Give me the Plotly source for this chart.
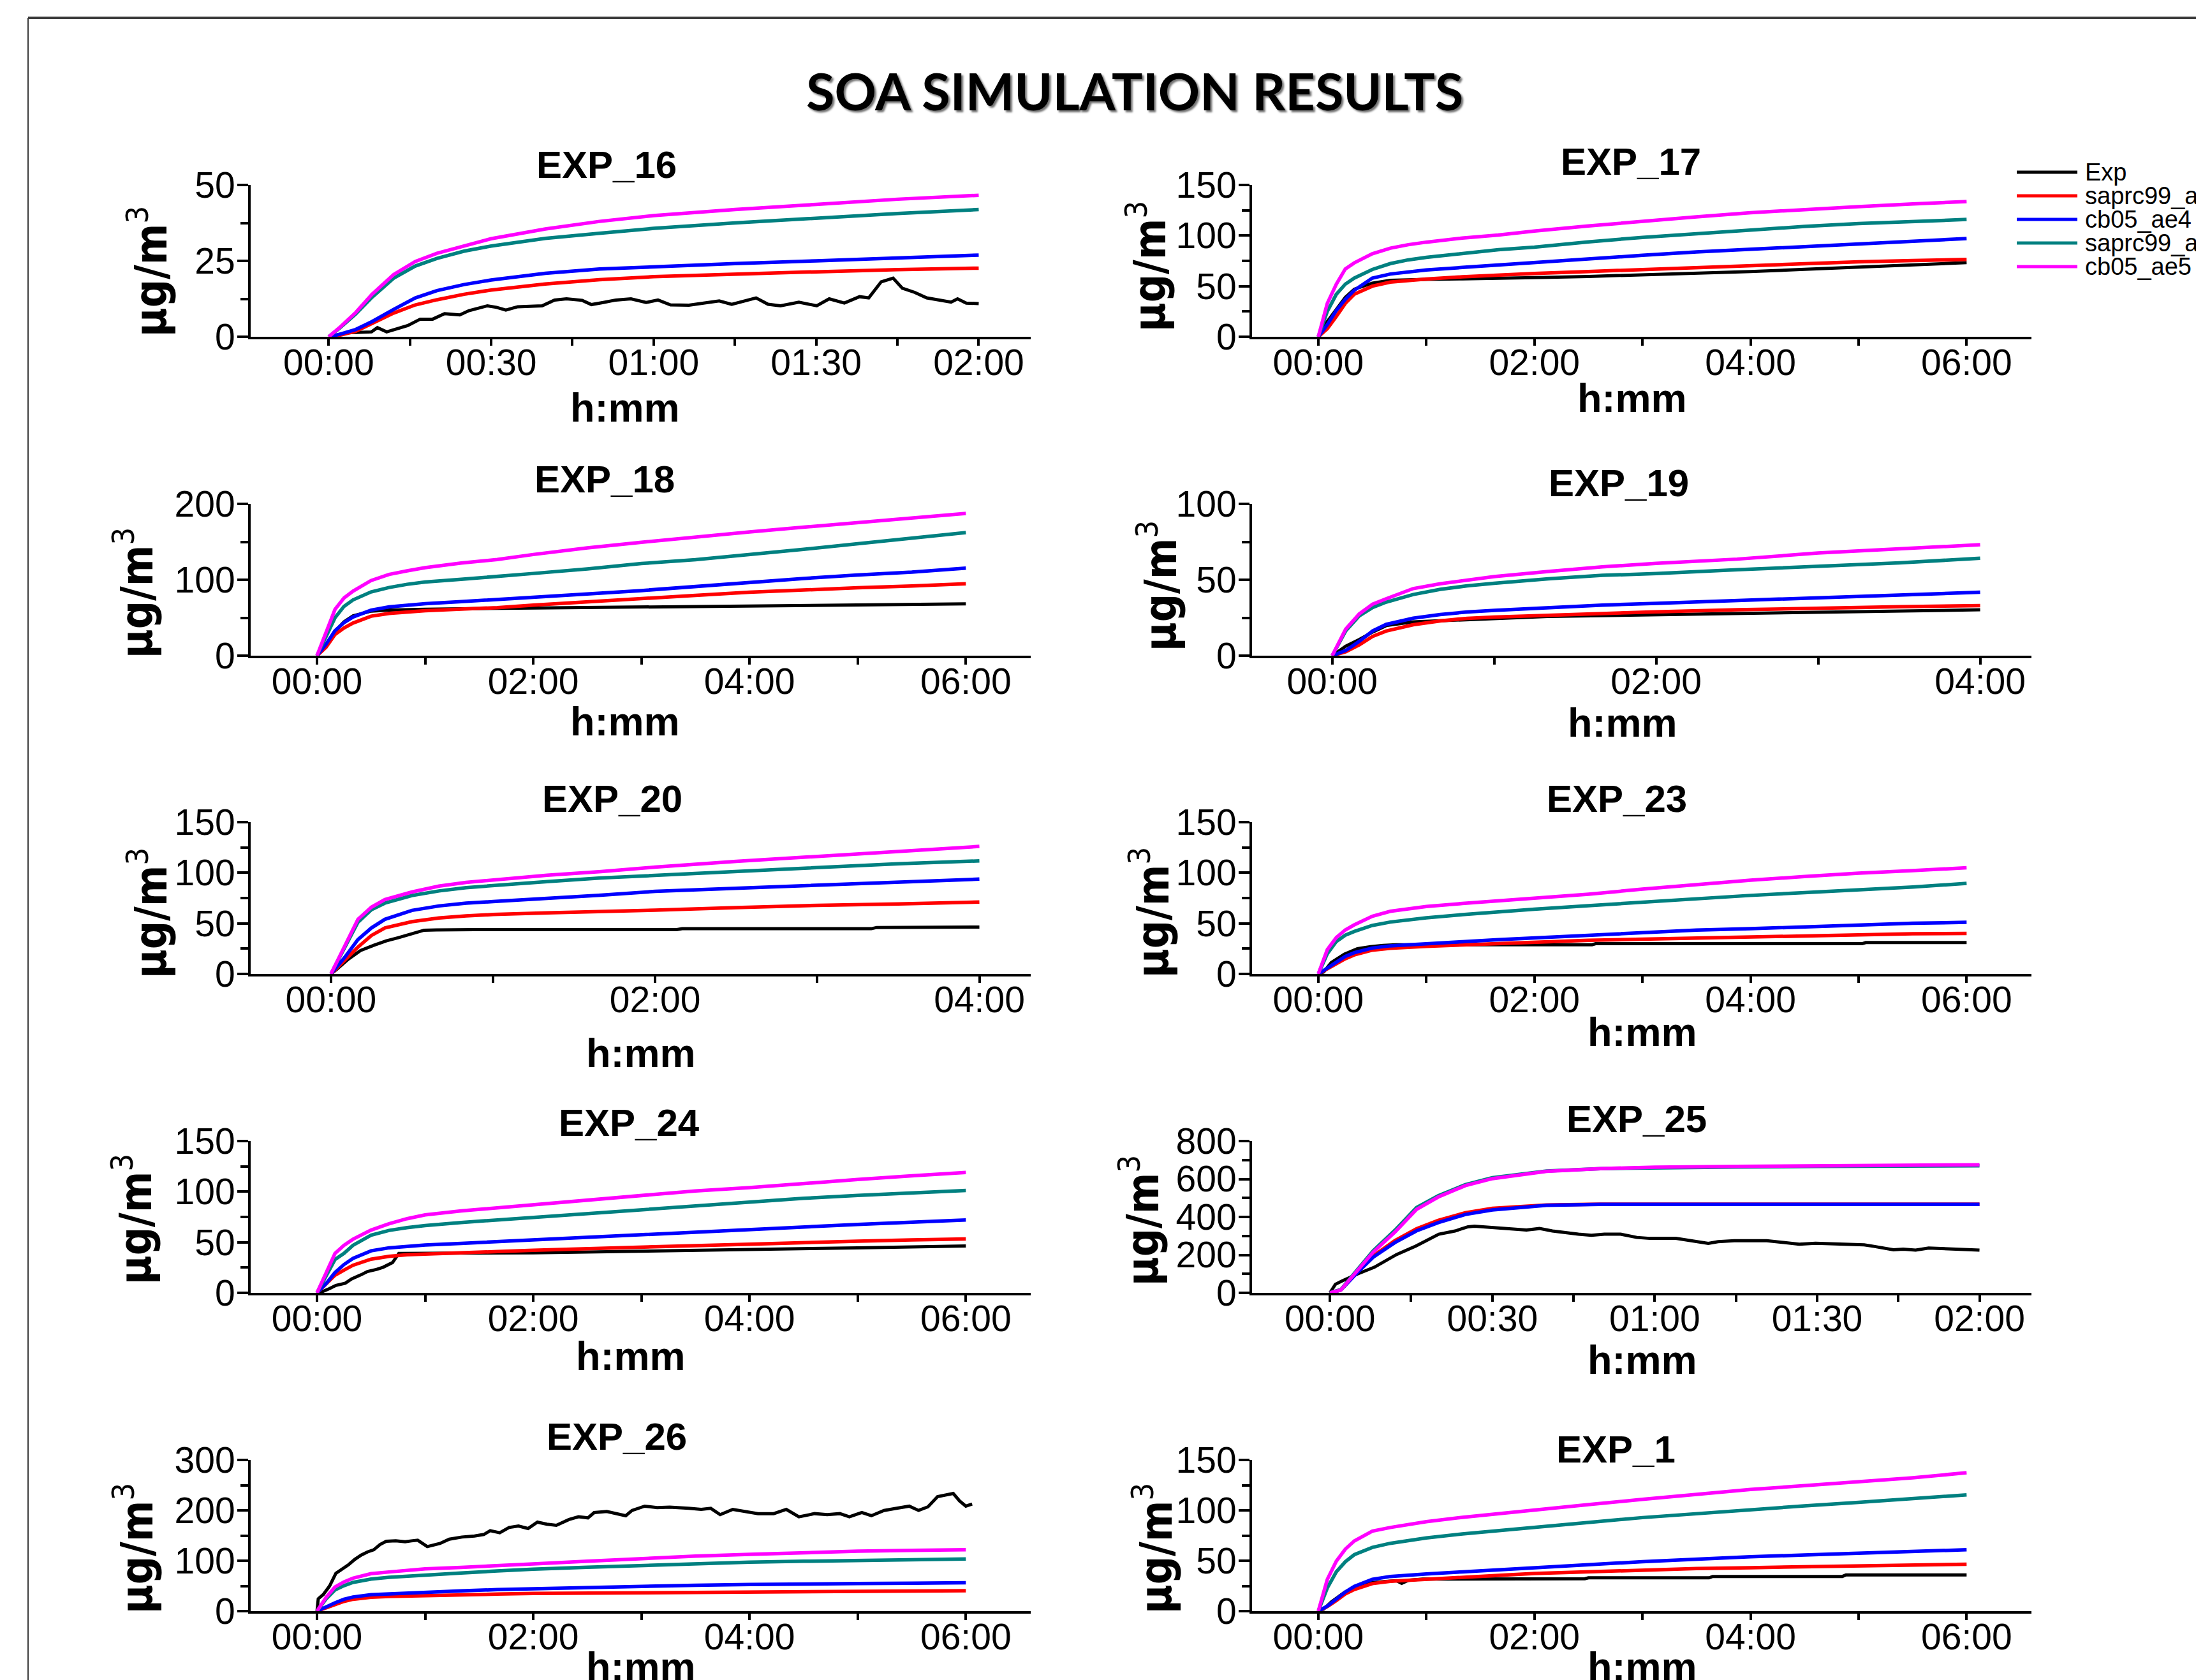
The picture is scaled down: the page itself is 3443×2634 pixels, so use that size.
import plotly.graph_objects as go

W, H = 3443, 2634

# ---------------- data ----------------
SERIES_NAMES = ["Exp", "saprc99_ae4", "cb05_ae4", "saprc99_ae5", "cb05_ae5"]
SERIES_COLORS = ["#000000", "#FF0000", "#0000FF", "#008080", "#FF00FF"]

PANEL_TITLES = ["EXP_16", "EXP_17", "EXP_18", "EXP_19", "EXP_20",
                "EXP_23", "EXP_24", "EXP_25", "EXP_26", "EXP_1"]
PANEL_YMAX = [50, 150, 200, 100, 150, 150, 150, 800, 300, 150]
PANEL_YTICKS = [[0, 25, 50], [0, 50, 100, 150], [0, 100, 200], [0, 50, 100],
                [0, 50, 100, 150], [0, 50, 100, 150], [0, 50, 100, 150],
                [0, 200, 400, 600, 800], [0, 100, 200, 300], [0, 50, 100, 150]]
PANEL_YMINOR = [[12.5, 37.5], [25, 75, 125], [50, 150], [25, 75],
                [25, 75, 125], [25, 75, 125], [25, 75, 125],
                [100, 300, 500, 700], [50, 150, 250], [25, 75, 125]]
PANEL_DURATION = [120, 360, 360, 240, 240, 360, 360, 120, 360, 360]

# x ticks (minutes) and labels per run duration
XTICKS = {120: [0, 30, 60, 90, 120], 240: [0, 120, 240], 360: [0, 120, 240, 360]}
XTICK_TEXT = {120: ["00:00", "00:30", "01:00", "01:30", "02:00"],
              240: ["00:00", "02:00", "04:00"],
              360: ["00:00", "02:00", "04:00", "06:00"]}
XMINOR = {120: [15, 45, 75, 105], 240: [60, 180], 360: [60, 180, 300]}

# model time grids (minutes)
T120 = [0, 2, 5, 8, 12, 16, 20, 25, 30, 40, 50, 60, 75, 90, 105, 120]
T240 = [0, 5, 10, 15, 20, 30, 40, 50, 60, 80, 100, 120, 150, 180, 210, 240]
T360 = [0, 5, 10, 15, 20, 30, 40, 50, 60, 80, 100, 120, 150, 180, 210, 240, 270, 300, 330, 360]

# EXP_16
exp16_exp_t = [0, 3.4, 7.9, 9, 10.7, 14.6, 16.9, 19.2, 21.4, 24.2, 25.9, 29.3, 31, 32.7, 34.9,
               39.4, 41.7, 43.9, 46.8, 48.5, 50.7, 53, 55.8, 58.6, 60.8, 63.1, 66.5, 69.9, 72.1,
               74.4, 78.9, 81.1, 83.4, 86.8, 90.1, 92.4, 95.2, 98, 99.7, 102, 104.2, 105.9, 108.2,
               110.4, 114.9, 116.1, 117.7, 120]
exp16_exp = [0, 1.3, 1.6, 3, 1.6, 3.7, 5.8, 5.8, 7.6, 7.2, 8.6, 10.2, 9.7, 8.8, 9.9,
             10.2, 12.1, 12.5, 12, 10.6, 11.3, 12.1, 12.5, 11.3, 12.1, 10.5, 10.4, 11.3, 11.8,
             10.7, 12.8, 10.7, 10.2, 11.4, 10.2, 12.5, 11.1, 13.2, 12.8, 18.1, 19.3, 16, 14.6,
             12.8, 11.4, 12.5, 11.1, 10.9]
exp16_saprc99_ae4 = [0, 0.5, 1.8, 4.4, 7.8, 10.5, 12.2, 14, 15.4, 17.4, 18.8, 19.8, 20.7, 21.4, 22.1, 22.6]
exp16_cb05_ae4 = [0, 0.8, 2.4, 5, 9, 12.8, 15.2, 17.2, 18.7, 20.9, 22.3, 23.1, 24.1, 25, 25.9, 26.9]
exp16_saprc99_ae5 = [0, 2.8, 7.5, 13, 19.3, 23.3, 25.8, 28.2, 29.9, 32.4, 34.1, 35.7, 37.5, 39.1, 40.6, 41.9]
exp16_cb05_ae5 = [0, 3, 8, 14, 20.5, 24.8, 27.5, 30, 32.3, 35.5, 38, 39.9, 41.9, 43.6, 45.3, 46.6]

# EXP_17
exp17_exp = [0, 15, 27, 39, 47, 53, 55.8, 56.4, 56.8, 57.2, 57.6, 58.5, 59.6, 61, 62.5, 64.5, 66.6, 68.8, 71, 73.2]
exp17_saprc99_ae4 = [0, 8, 20, 33, 42, 50, 54, 55.8, 57, 59.2, 61, 62.5, 64.5, 66.5, 68.5, 70.5, 72.3, 74, 75.3, 76.4]
exp17_cb05_ae4 = [0, 12, 26, 37, 46, 58, 62, 64, 66, 68.5, 71, 73, 77, 80.5, 83.8, 86.5, 89.3, 92, 94.7, 97]
exp17_saprc99_ae5 = [0, 25, 42, 52, 58, 66.5, 72.3, 76, 78.5, 82.5, 86, 88.5, 93.8, 98.2, 102, 105.8, 109, 111.8, 114, 115.9]
exp17_cb05_ae5 = [0, 33, 52, 67, 73, 82, 87.5, 91, 93.5, 97.5, 100.5, 104.5, 109.5, 114.3, 118.5, 122.6, 126, 128.6, 131.3, 133.6]

# EXP_18
exp18_exp = [0, 14, 32, 44.5, 52.5, 58.7, 60, 60.9, 61.2, 61.8, 62.2, 62.6, 63.2, 64.1, 65, 65.6, 66.1, 66.8, 67.3, 68.2]
exp18_saprc99_ae4 = [0, 11, 28, 36.5, 43, 52, 55.7, 58, 59.3, 61.3, 63.3, 66.5, 71.2, 75.1, 79.5, 83.6, 87, 89.4, 91.9, 94.8]
exp18_cb05_ae4 = [0, 15, 33, 43.5, 51, 60, 64.3, 66.4, 68.4, 71.2, 74.4, 77.6, 81.3, 85.8, 91.3, 96.8, 101.7, 106.3, 110, 115.3]
exp18_saprc99_ae5 = [0, 24, 50, 65, 73.5, 84, 89.8, 94, 97, 100.6, 104, 108.3, 114.3, 121.4, 126.5, 133, 140.2, 147.4, 154.6, 162.1]
exp18_cb05_ae5 = [0, 30, 61, 76, 85, 99, 107, 111.8, 116, 122, 126.7, 133.3, 142, 149.4, 156.6, 163, 169.3, 175.4, 181.4, 187.4]

# EXP_19
exp19_exp = [0, 6.2, 10.6, 15.6, 19.8, 22.3, 23, 23.8, 24.5, 25.8, 26.4, 27, 27.8, 28.7, 29.4, 30.2]
exp19_saprc99_ae4 = [0, 2.6, 7.1, 12.7, 16.2, 20.4, 22.9, 24.6, 25.4, 26.6, 27.8, 28.9, 30.2, 31.5, 32.3, 33]
exp19_cb05_ae4 = [0, 3.4, 9.4, 16.3, 20.6, 24.7, 27.1, 28.8, 29.8, 31.6, 33.3, 34.5, 36.3, 38, 39.8, 41.8]
exp19_saprc99_ae5 = [0, 16.3, 26.2, 31.8, 35.3, 40.3, 43.7, 46, 47.7, 50.6, 52.9, 54.1, 56.6, 59, 61.1, 64.2]
exp19_cb05_ae5 = [0, 17.5, 27.5, 34, 37.5, 44.2, 47.4, 50, 52.1, 55.5, 58.5, 60.8, 63.6, 67.6, 70.2, 73.1]

# EXP_20
exp20_exp_t = [0, 2, 6.5, 11, 16, 20.5, 25, 30, 34.5, 39, 53, 128, 130, 200, 202, 240]
exp20_exp = [0, 4.2, 14.7, 23.2, 28.4, 32.7, 35.8, 40, 43.2, 43.5, 43.8, 43.8, 44.7, 44.7, 45.9, 46.3]
exp20_saprc99_ae4 = [0, 13, 26.5, 38, 45.5, 51.7, 55.3, 57.4, 58.7, 60.3, 61.5, 63, 65.6, 67.8, 69.1, 71]
exp20_cb05_ae4 = [0, 16, 34, 45.5, 54, 62.8, 67.2, 69.9, 71.5, 74.3, 77.9, 81.6, 84.6, 87.3, 90.7, 93.7]
exp20_saprc99_ae5 = [0, 25, 51, 63.5, 70, 77.5, 82, 85.3, 87.5, 91.2, 94.8, 97.5, 101.5, 105.6, 108.9, 111.7]
exp20_cb05_ae5 = [0, 27, 54, 66, 73.5, 81, 86.8, 90.5, 93, 97.5, 101.1, 105.6, 111.2, 115.8, 121, 126]

# EXP_23
exp23_exp_t = [0, 3, 7.2, 14.5, 21.7, 29, 36, 43.4, 152, 154, 302, 304, 360]
exp23_exp = [0, 2, 11.2, 19.6, 24.9, 27, 28.2, 28.9, 28.9, 29.9, 29.9, 31, 31]
exp23_saprc99_ae4 = [0, 5, 10, 15, 18.8, 23.5, 25.3, 26.4, 27.2, 28.7, 30.2, 31.4, 33.2, 34.3, 35.4, 36.6, 38, 38.9, 39.7, 40]
exp23_cb05_ae4 = [0, 5.5, 11.7, 17.3, 21, 25.6, 27.8, 29, 29.9, 31.9, 33.9, 35.5, 38.2, 40.9, 43.3, 44.7, 46.5, 48.6, 50.1, 51]
exp23_saprc99_ae5 = [0, 20, 32, 38.3, 42, 47.9, 51.3, 53.6, 55.4, 58.6, 61.4, 63.9, 67.5, 71, 74.4, 77.6, 80.3, 82.9, 85.8, 89.5]
exp23_cb05_ae5 = [0, 24, 36, 43.5, 48.5, 57, 61.9, 64.7, 66.7, 69.6, 72.1, 74.4, 78.8, 83.8, 88.6, 92.6, 96.2, 99.6, 102.1, 104.9]

# EXP_24
exp24_exp_t = [0, 2, 7, 10.5, 15.7, 19.2, 24.5, 28, 33.2, 36.7, 41.9, 45.4, 120, 180, 240, 300, 360]
exp24_exp = [0, 0.5, 4.2, 7.4, 9.5, 13.7, 17.9, 21.1, 23.2, 25.3, 29.9, 39, 39.6, 41, 42.5, 44.5, 46.3]
exp24_saprc99_ae4 = [0, 9, 17.4, 22.5, 27.3, 33.3, 36.1, 37.6, 38.4, 39.6, 40.8, 42, 43.8, 45.3, 46.7, 48.1, 49.8, 51.1, 52.3, 53.3]
exp24_cb05_ae4 = [0, 9, 20, 28, 34, 41.5, 44.5, 46, 47.2, 48.9, 50.6, 52.5, 55.3, 58, 60.6, 63.3, 65.8, 67.6, 69.8, 72]
exp24_saprc99_ae5 = [0, 16, 33, 39, 47, 57, 61.7, 64.5, 66.5, 69.5, 72, 74.5, 79, 82.6, 86.5, 90, 93.4, 96.2, 98.8, 101.1]
exp24_cb05_ae5 = [0, 20, 39, 47, 53, 62, 68.3, 73.3, 77, 81, 84.1, 87.1, 91.6, 96.1, 100.7, 104, 108.3, 112, 115.7, 119]

# EXP_25
exp25_exp_t = [0, 1, 2.2, 5.2, 8.2, 12.3, 15.9, 20.1, 23.1, 25.5, 26.7, 30.3, 33.9, 36.3, 38.7,
               41.1, 45.9, 48.3, 50.7, 53.7, 56.7, 59.1, 63.9, 67.5, 69.9, 71.7, 74.7, 80.7, 83.7,
               86.7, 89.7, 95.7, 98.7, 100.5, 104.1, 105.9, 108.2, 110.6, 113, 115.4, 117.8, 120]
exp25_exp = [0, 45, 62, 101, 135, 202, 247, 309, 326, 348, 351, 343, 337, 331, 339,
             326, 309, 303, 309, 309, 292, 287, 287, 270, 261, 270, 275, 275, 264,
             256, 261, 256, 253, 245, 227, 230, 225, 236, 234, 230, 230, 225]
exp25_saprc99_ae4 = [0, 15, 108, 195, 275, 338, 382, 422, 445, 463, 467, 467, 467, 467, 467, 467]
exp25_cb05_ae4 = [0, 15, 105, 188, 265, 327, 370, 413, 437, 461, 466, 466, 466, 466, 466, 466]
exp25_saprc99_ae5 = [0, 17, 120, 222, 330, 450, 512, 570, 607, 642, 655, 660, 663, 666, 669, 670]
exp25_cb05_ae5 = [0, 15, 115, 215, 320, 440, 505, 565, 602, 640, 655, 662, 666, 669, 672, 675]

# EXP_26
exp26_exp_t = [0, 0.7, 3.5, 7, 10.5, 14, 17.5, 21, 24.5, 28, 31.5, 35, 38.4, 43.7, 48.9,
               52.4, 55.9, 61.2, 68.2, 73.4, 80.4, 87.4, 92.6, 96.1, 101.4, 106.6, 111.8, 117.1,
               122.3, 127.6, 132.8, 139.8, 145.1, 150.3, 153.8, 160.8, 166, 171.3, 174.8, 181.8,
               188.7, 195.7, 206.2, 213.2, 218.5, 223.7, 230.7, 237.7, 244.7, 253.4, 260.4, 267.4,
               276.1, 283.1, 290.1, 295.4, 302.3, 307.6, 314.6, 321.6, 328.6, 333.8, 339, 344.3,
               347.8, 353, 356.5, 360, 363.5]
exp26_exp = [0, 24.5, 33, 49.9, 75.2, 83.7, 92.1, 102.7, 111.1, 117.4, 121.7, 132.2, 138.6, 139.4, 137.7,
             139.4, 140.7, 128, 134.3, 142.8, 147, 149.1, 152.1, 159.7, 155.5, 166, 169, 163.9,
             176.6, 172.4, 170.3, 181.7, 187.2, 185, 195.6, 197.7, 193.5, 189.3, 199.8, 208.3,
             205.3, 206.2, 204, 201.9, 204, 191.4, 201.9, 197.7, 193.5, 193.5, 201.9, 187.2,
             193.5, 191.4, 193.5, 187.2, 195.6, 189.3, 199.8, 204, 208.3, 199.8, 207, 227.3,
             229.4, 233.6, 218.8, 208.3, 212.5]
exp26_saprc99_ae4 = [0, 7, 13.5, 19.3, 23.5, 27.4, 29, 30, 30.8, 32.4, 33.8, 35, 35.7, 36.8, 38.3, 39.3, 39.6, 40.6, 40.6, 40.6]
exp26_cb05_ae4 = [0, 8.5, 16.5, 23.5, 28, 32.6, 34.4, 35.6, 37.1, 40.3, 42.6, 44.5, 47.1, 49.7, 51.4, 52.7, 54.3, 54.9, 55.3, 56.2]
exp26_saprc99_ae5 = [0, 24, 42, 50.5, 57, 63.7, 67.2, 69.6, 71.1, 75.6, 79.6, 83.3, 87, 90.6, 94.4, 97, 98.9, 100.7, 102.7, 103.5]
exp26_cb05_ae5 = [0, 27, 48, 58, 65.5, 74.3, 77.7, 80.8, 83.8, 86.8, 89.8, 93.8, 99.2, 104.4, 109.1, 112.7, 116, 118.9, 120.7, 121.7]

# EXP_1
exp1_exp_t = [0, 3, 7.2, 14.5, 21.7, 28.9, 36.2, 43.4, 46.3, 50, 58, 148, 150, 217, 219, 291, 293, 360]
exp1_exp = [0, 2, 9.1, 18.6, 24.9, 28.1, 29.2, 30.2, 27.5, 30.5, 31.8, 32.1, 33, 33, 34.4, 34.4, 35.9, 35.9]
exp1_saprc99_ae4 = [0, 4.5, 10.5, 17, 21.5, 27.3, 29.6, 30.7, 31.6, 33.6, 35.5, 37.3, 39.2, 40.9, 42.3, 43.1, 44, 44.9, 45.8, 46.5]
exp1_cb05_ae4 = [0, 5, 12, 19, 24.5, 31.5, 34.4, 35.8, 36.9, 39, 40.8, 42.6, 46.1, 49.1, 51.7, 53.9, 55.7, 57.5, 59.3, 60.9]
exp1_saprc99_ae5 = [0, 23, 39, 49, 56, 63.2, 67.3, 70.2, 72.6, 76.6, 80.1, 83.6, 88, 92.8, 96.9, 100.9, 104.4, 107.9, 111.4, 115.4]
exp1_cb05_ae5 = [0, 31.5, 49.5, 61.5, 69.6, 79.4, 83, 86, 88.8, 93.1, 96.9, 100.5, 105.7, 110.9, 116.1, 120.7, 124.5, 128, 132.3, 137.3]

# per panel: (exp_t, exp_values, model_t, [saprc99_ae4, cb05_ae4, saprc99_ae5, cb05_ae5])
PANEL_DATA = [
    (exp16_exp_t, exp16_exp, T120, [exp16_saprc99_ae4, exp16_cb05_ae4, exp16_saprc99_ae5, exp16_cb05_ae5]),
    (T360, exp17_exp, T360, [exp17_saprc99_ae4, exp17_cb05_ae4, exp17_saprc99_ae5, exp17_cb05_ae5]),
    (T360, exp18_exp, T360, [exp18_saprc99_ae4, exp18_cb05_ae4, exp18_saprc99_ae5, exp18_cb05_ae5]),
    (T240, exp19_exp, T240, [exp19_saprc99_ae4, exp19_cb05_ae4, exp19_saprc99_ae5, exp19_cb05_ae5]),
    (exp20_exp_t, exp20_exp, T240, [exp20_saprc99_ae4, exp20_cb05_ae4, exp20_saprc99_ae5, exp20_cb05_ae5]),
    (exp23_exp_t, exp23_exp, T360, [exp23_saprc99_ae4, exp23_cb05_ae4, exp23_saprc99_ae5, exp23_cb05_ae5]),
    (exp24_exp_t, exp24_exp, T360, [exp24_saprc99_ae4, exp24_cb05_ae4, exp24_saprc99_ae5, exp24_cb05_ae5]),
    (exp25_exp_t, exp25_exp, T120, [exp25_saprc99_ae4, exp25_cb05_ae4, exp25_saprc99_ae5, exp25_cb05_ae5]),
    (exp26_exp_t, exp26_exp, T360, [exp26_saprc99_ae4, exp26_cb05_ae4, exp26_saprc99_ae5, exp26_cb05_ae5]),
    (exp1_exp_t, exp1_exp, T360, [exp1_saprc99_ae4, exp1_cb05_ae4, exp1_saprc99_ae5, exp1_cb05_ae5]),
]

# ---------------- layout (pixels) ----------------
COL_X = [(393, 1616), (1963, 3185)]
ROW_Y = [(290, 528), (790, 1028), (1289, 1527), (1789, 2027), (2289, 2526)]
XRANGE = {120: [-14.4, 129.6], 240: [-29.7, 259.0], 360: [-36.8, 396.0]}
TITLE_POS = [(951, 258), (2557, 254), (948, 752), (2538, 757), (960, 1253),
             (2535, 1252), (986, 1760), (2566, 1755), (967, 2252), (2533, 2272)]
XLABEL_POS = [(980, 639), (2559, 624), (980, 1131), (2544, 1133), (1005, 1651),
              (2575, 1618), (989, 2126), (2575, 2132), (1005, 2613), (2575, 2613)]
YLABEL_POS = [(232, 426), (1798, 418), (210, 930), (1815, 918), (232, 1432),
              (1803, 1430), (208, 1912), (1787, 1914), (210, 2428), (1808, 2428)]

FONT = "Liberation Sans, Arial, sans-serif"
NARROW = "Liberation Sans Narrow, DejaVu Sans Condensed, Liberation Sans, sans-serif"


def px(x):
    return x / W


def py(y):
    return 1 - y / H


fig = go.Figure()
layout = dict(
    template="none",
    width=W, height=H, autosize=False,
    margin=dict(l=0, r=0, t=0, b=0, pad=0, autoexpand=False),
    paper_bgcolor="white", plot_bgcolor="white",
    showlegend=False,
    font=dict(family=FONT, color="black"),
)
annotations = []
shapes = []

for i, title in enumerate(PANEL_TITLES):
    r, c = divmod(i, 2)
    ax = "" if i == 0 else str(i + 1)
    dur = PANEL_DURATION[i]
    x0, x1 = COL_X[c]
    yt, yb = ROW_Y[r]
    layout["xaxis" + ax] = dict(
        domain=[px(x0), px(x1)], anchor="y" + ax, range=XRANGE[dur],
        automargin=False,
        showline=True, linecolor="black", linewidth=4,
        showgrid=False, zeroline=False,
        tickmode="array", tickvals=XTICKS[dur], ticktext=XTICK_TEXT[dur],
        ticks="outside", ticklen=10, tickwidth=3.5, tickcolor="black",
        ticklabelstandoff=-22,
        tickfont=dict(family=FONT, size=57, color="black"),
        minor=dict(tickmode="array", tickvals=XMINOR[dur], ticks="outside",
                   ticklen=10, tickwidth=3.5, tickcolor="black", showgrid=False),
    )
    layout["yaxis" + ax] = dict(
        domain=[py(yb), py(yt)], anchor="x" + ax, range=[0, PANEL_YMAX[i]],
        automargin=False,
        showline=True, linecolor="black", linewidth=4,
        showgrid=False, zeroline=False,
        tickmode="array", tickvals=PANEL_YTICKS[i],
        ticks="outside", ticklen=17, tickwidth=3.5, tickcolor="black",
        ticklabelstandoff=-8,
        tickfont=dict(family=FONT, size=57, color="black"),
        minor=dict(tickmode="array", tickvals=PANEL_YMINOR[i], ticks="outside",
                   ticklen=12, tickwidth=3.5, tickcolor="black", showgrid=False),
    )

    exp_t, exp_v, mod_t, models = PANEL_DATA[i]
    fig.add_trace(go.Scatter(x=exp_t, y=exp_v, mode="lines", name=SERIES_NAMES[0],
                             line=dict(color=SERIES_COLORS[0], width=5),
                             xaxis="x" + ax, yaxis="y" + ax))
    for k, vals in enumerate(models):
        fig.add_trace(go.Scatter(x=mod_t, y=vals, mode="lines", name=SERIES_NAMES[k + 1],
                                 line=dict(color=SERIES_COLORS[k + 1], width=5.5),
                                 xaxis="x" + ax, yaxis="y" + ax))

    tx, ty = TITLE_POS[i]
    annotations.append(dict(text="<b>%s</b>" % title, x=px(tx), y=py(ty),
                            xref="paper", yref="paper", showarrow=False,
                            xanchor="center", yanchor="middle",
                            font=dict(family=FONT, size=60, color="black")))
    lx, ly = XLABEL_POS[i]
    annotations.append(dict(text="<b>h:mm</b>", x=px(lx), y=py(ly),
                            xref="paper", yref="paper", showarrow=False,
                            xanchor="center", yanchor="middle",
                            font=dict(family=FONT, size=63, color="black")))
    gx, gy = YLABEL_POS[i]
    annotations.append(dict(text="<b>µg/m</b><sup>3</sup>", x=px(gx), y=py(gy),
                            xref="paper", yref="paper", showarrow=False,
                            textangle=-90, xanchor="center", yanchor="middle",
                            font=dict(family=NARROW, size=69, color="black")))

# main title
annotations.append(dict(text="SOA SIMULATION RESULTS", x=px(1779), y=py(141),
                        xref="paper", yref="paper", showarrow=False,
                        xanchor="center", yanchor="middle",
                        font=dict(family="Lato, Liberation Sans, sans-serif", size=81,
                                  color="black", weight=700,
                                  shadow="3px 3px 3px rgba(0,0,0,0.55)")))

# legend (drawn manually)
LEG_X0, LEG_X1, LEG_TX = 3162, 3257, 3267
LEG_Y = [270, 307, 344, 381, 418]
for name, color, ly in zip(SERIES_NAMES, SERIES_COLORS, LEG_Y):
    shapes.append(dict(type="line", xref="paper", yref="paper",
                       x0=px(LEG_X0), x1=px(LEG_X1), y0=py(ly), y1=py(ly),
                       line=dict(color=color, width=5)))
    annotations.append(dict(text=name, x=px(LEG_TX), y=py(ly), xref="paper", yref="paper",
                            showarrow=False, xanchor="left", yanchor="middle",
                            font=dict(family=FONT, size=38, color="black")))

# slide frame lines
shapes.append(dict(type="line", xref="paper", yref="paper",
                   x0=px(44), x1=1, y0=py(28), y1=py(28),
                   line=dict(color="#3a3a3a", width=4)))
shapes.append(dict(type="line", xref="paper", yref="paper",
                   x0=px(44), x1=px(44), y0=py(28), y1=0,
                   line=dict(color="#3a3a3a", width=2)))

layout["annotations"] = annotations
layout["shapes"] = shapes
fig.update_layout(**layout)

fig.write_html("out.html", config={"displayModeBar": False},
               post_script="document.body.style.margin='0px';document.body.style.overflow='hidden';")
